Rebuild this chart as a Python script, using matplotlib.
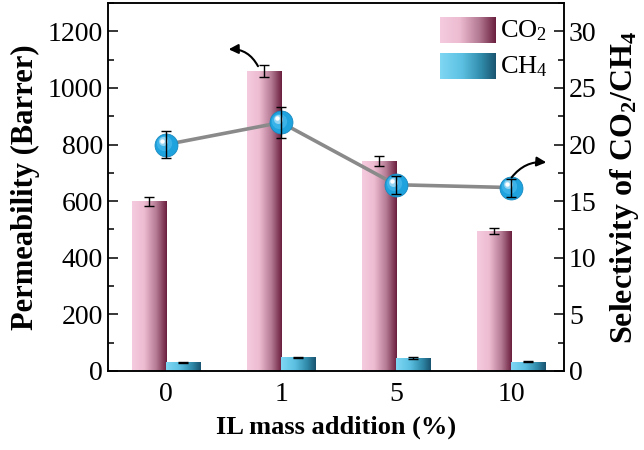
import numpy as np
import matplotlib
matplotlib.use("Agg")
import matplotlib.pyplot as plt
from matplotlib.colors import LinearSegmentedColormap
from matplotlib.ticker import MultipleLocator
from matplotlib.transforms import offset_copy

# data
il_labels = ["0", "1", "5", "10"]
co2_perm = [600, 1060, 742, 494]
co2_err = [16, 20, 17, 11]
ch4_perm = [31, 48, 46, 32]
ch4_err = [2, 2, 2, 2]
selectivity = [20.0, 21.95, 16.45, 16.2]
sel_err = [1.2, 1.4, 0.8, 0.8]

plt.rcParams.update(
    {
        "font.family": ["Liberation Serif", "DejaVu Serif"],
        "mathtext.default": "regular",
        "font.size": 14,
        "axes.linewidth": 1.1,
    }
)

co2_cmap = LinearSegmentedColormap.from_list(
    "co2", [(0, "#f5cbdf"), (0.35, "#edbcd1"), (0.7, "#b47a93"), (1, "#6a1e3e")]
)
ch4_cmap = LinearSegmentedColormap.from_list(
    "ch4", [(0, "#7fd7f3"), (0.4, "#5cc0e2"), (0.75, "#2f89a8"), (1, "#195470")]
)
grad = np.linspace(0, 1, 256).reshape(1, -1)

fig = plt.figure(figsize=(6.44, 4.5), dpi=100)
ax = fig.add_axes([0.1677, 0.1756, 0.7081, 0.8177])
ax2 = ax.twinx()

x = np.arange(len(il_labels))
w = 0.3


def gradient_bars(xs, heights, cmap):
    bars = ax.bar(xs, heights, width=w, color="none", edgecolor="none", zorder=2)
    for b in bars:
        x0, y0 = b.get_x(), b.get_y()
        im = ax.imshow(
            grad,
            cmap=cmap,
            aspect="auto",
            extent=(x0, x0 + b.get_width(), y0, y0 + b.get_height()),
            zorder=2,
        )
        im.set_clip_path(b)
    return bars


gradient_bars(x - w / 2, co2_perm, co2_cmap)
gradient_bars(x + w / 2, ch4_perm, ch4_cmap)
ax.errorbar(x - w / 2, co2_perm, yerr=co2_err, fmt="none", ecolor="black",
            elinewidth=1, capsize=3.5, capthick=1, zorder=3)
ax.errorbar(x + w / 2, ch4_perm, yerr=ch4_err, fmt="none", ecolor="black",
            elinewidth=1, capsize=3.5, capthick=1, zorder=3)

ax.set_xlim(-0.505, 3.46)
ax.set_ylim(0, 1300)
ax.set_xticks(x)
ax.set_xticklabels(il_labels)
ax.tick_params(axis="x", length=0, pad=8, labelsize=20)
ax.yaxis.set_major_locator(MultipleLocator(200))
ax.yaxis.set_minor_locator(MultipleLocator(100))
ax.tick_params(axis="y", which="major", direction="in", length=7, width=1.1, labelsize=20)
ax.tick_params(axis="y", which="minor", direction="in", length=4, width=1.1)
ax.set_ylabel("Permeability (Barrer)", fontweight="bold", fontsize=22, labelpad=6)
ax.set_xlabel("IL mass addition (%)", fontweight="bold", fontsize=19, labelpad=6)

# selectivity line with sphere-like markers
ax2.plot(x, selectivity, color="#8a8a8a", linewidth=2.6, zorder=2)
ax2.plot(x, selectivity, "o", markersize=16.5, color="#1fa3de",
         markeredgecolor="#1789c0", markeredgewidth=0.6, zorder=3)
layers = [(11, "#3cb3e8", 1.2), (6.5, "#93d5f3", 2.3), (3.2, "#ffffff", 2.9)]
for ms, col, off in layers:
    tr = offset_copy(ax2.transData, fig=fig, x=-off, y=off, units="points")
    ax2.plot(x, selectivity, "o", markersize=ms, color=col,
             markeredgewidth=0, transform=tr, zorder=3)
ax2.errorbar(x, selectivity, yerr=sel_err, fmt="none", ecolor="black",
             elinewidth=1, capsize=3.5, capthick=1, zorder=4)

ax2.set_ylim(0, 32.5)
ax2.yaxis.set_major_locator(MultipleLocator(5))
ax2.yaxis.set_minor_locator(MultipleLocator(2.5))
ax2.tick_params(axis="y", which="major", direction="in", length=7, width=1.1, labelsize=20)
ax2.tick_params(axis="y", which="minor", direction="in", length=4, width=1.1)
ax2.set_ylabel("Selectivity of CO$_2$/CH$_4$", fontweight="bold", fontsize=23, labelpad=8)

# curved arrows
ax2.annotate("", xy=(0.52, 28.4), xytext=(0.81, 26.7),
             arrowprops=dict(arrowstyle="-|>", color="black", lw=1.5,
                             connectionstyle="arc3,rad=0.35", mutation_scale=14))
ax2.annotate("", xy=(3.33, 18.4), xytext=(2.99, 16.9),
             arrowprops=dict(arrowstyle="-|>", color="black", lw=1.5,
                             connectionstyle="arc3,rad=-0.3", mutation_scale=14))

# legend with gradient swatches
for cmap, y0, label in [(co2_cmap, 0.891, "CO$_2$"), (ch4_cmap, 0.793, "CH$_4$")]:
    sw = ax.inset_axes([0.728, y0, 0.121, 0.071])
    sw.imshow(grad, cmap=cmap, aspect="auto")
    sw.axis("off")
    ax.text(0.86, y0 + 0.035, label, transform=ax.transAxes, fontsize=19,
            va="center", ha="left")

fig.savefig("out.png", dpi=100)
